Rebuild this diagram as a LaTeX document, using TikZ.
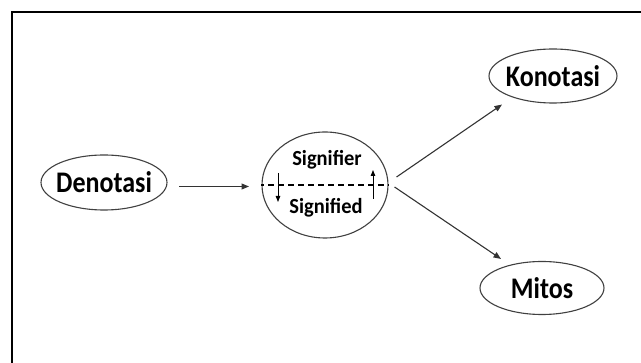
\documentclass[tikz,border=0pt]{standalone}
\usepackage{fontspec}
\setmainfont{Carlito}
\usetikzlibrary{shapes.geometric,arrows.meta}
\tikzset{
  oval/.style={ellipse, draw=black!75, line width=1.1pt, inner sep=0pt,
    font=\fontsize{26}{26}\selectfont\bfseries},
  innertext/.style={font=\fontsize{20.5}{20.5}\selectfont\bfseries, inner sep=0pt},
  conn/.style={draw=black!80, line width=1.1pt, -{Triangle[length=7.5pt,width=6pt]}},
  small/.style={draw=black, line width=0.9pt, -{Triangle[length=6pt,width=4.5pt]}},
  frame/.style={draw=black, line width=2pt}
}
\newcommand{\lbl}[1]{\makebox[0pt]{\scalebox{1}[1.15]{#1}}}
\begin{document}
\begin{tikzpicture}[x=1pt,y=-1pt]
\useasboundingbox (0,0) rectangle (641,363);
\clip (0,0) rectangle (641,363);
\draw[frame] (12,12) rectangle (700,420);
% nodes
\node[oval, minimum width=126pt, minimum height=55pt] (den) at (104,182.5) {\lbl{Denotasi}};
\node[oval, minimum width=126pt, minimum height=106pt] (sig) at (325,185) {};
\node[oval, minimum width=128pt, minimum height=54pt] (kon) at (553,76) {\lbl{Konotasi}};
\node[oval, minimum width=124pt, minimum height=53pt] (mit) at (542,288) {\lbl{Mitos}};
\node[innertext] (sfr) at (327,160) {\scalebox{1}[1.05]{Signifier}};
\node[innertext] (sfd) at (326,208) {\scalebox{1}[1.05]{Signified}};
% dashed divider
\draw[black, line width=1.3pt, dash pattern=on 6pt off 4pt, dash phase=3pt] (sig.west) -- (sig.east);
% small arrows
\coordinate (da1) at (278,173);
\coordinate (da2) at (278,202);
\coordinate (ua1) at (373,199);
\coordinate (ua2) at (373,170);
\draw[small] (da1) -- (da2);
\draw[small] (ua1) -- (ua2);
% connectors
\coordinate (a1) at (179,186.5);
\coordinate (a2) at (249,186.5);
\draw[conn] (a1) -- (a2);
\draw[conn] ([shift={(8,-8)}]sig.east) -- ([shift={(-51,1)}]kon.south);
\draw[conn] ([shift={(6,2)}]sig.east) -- ([shift={(-41,-2)}]mit.north);
\end{tikzpicture}
\end{document}
